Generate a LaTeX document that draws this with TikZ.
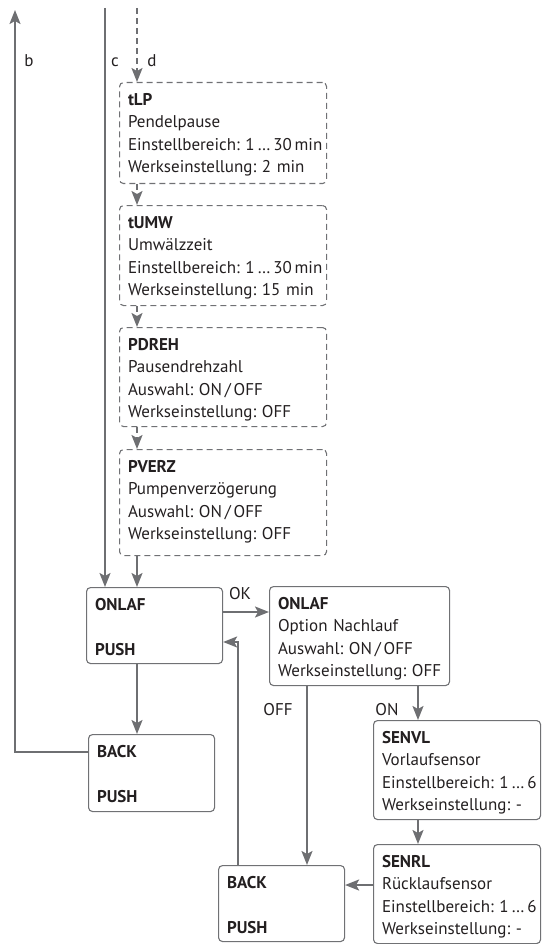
\documentclass[tikz,border=0pt]{standalone}
\usepackage{fontspec}
\setmainfont{PT Sans}
\usetikzlibrary{arrows.meta,calc}
\definecolor{lgray}{HTML}{6E6F72}
\definecolor{bgray}{HTML}{707174}
\definecolor{txt}{HTML}{231F20}
\frenchspacing
\tikzset{
  conn/.style={draw=lgray, line width=2pt},
  arr/.style={conn, -{Stealth[length=14pt,width=11pt,inset=3pt]}},
  darr/.style={arr, dash pattern=on 6pt off 4pt},
  box/.style={draw=bgray, line width=1.1pt, rounded corners=4pt, anchor=north west,
    inner xsep=8.5pt, inner ysep=0pt, align=left, text=txt,
    font=\fontsize{17}{22.3}\selectfont\frenchspacing, text height=23pt},
  dbox/.style={box, dash pattern=on 6pt off 4pt},
  lbl/.style={anchor=base, text=txt, font=\fontsize{17}{20}\selectfont, inner sep=0pt},
}
\begin{document}
\begin{tikzpicture}[x=1pt,y=-1pt]
\useasboundingbox (0,0) rectangle (541,944);
% dashed parameter boxes
\node[dbox, text width=190pt, text depth=78pt] (tlp) at (119,82)
  {\textbf{tLP}\\Pendelpause\\\mbox{Einstellbereich: 1\,…\,30\,min}\\\mbox{Werkseinstellung: 2 min}};
\node[dbox, text width=190pt, text depth=77pt] (tumw) at (119,205)
  {\textbf{tUMW}\\Umwälzzeit\\\mbox{Einstellbereich: 1\,…\,30\,min}\\\mbox{Werkseinstellung: 15 min}};
\node[dbox, text width=190pt, text depth=76pt] (pdreh) at (119,327)
  {\textbf{PDREH}\\Pausendrehzahl\\\mbox{Auswahl: ON\,/\,OFF}\\\mbox{Werkseinstellung: OFF}};
\node[dbox, text width=190pt, text depth=83pt] (pverz) at (119,449)
  {\textbf{PVERZ}\\Pumpenverzögerung\\\mbox{Auswahl: ON\,/\,OFF}\\\mbox{Werkseinstellung: OFF}};
% solid boxes
\node[box, text width=119pt, text height=23pt, text depth=53pt] (onlaf1) at (86,587)
  {\textbf{ONLAF}\\[22.7pt]\textbf{PUSH}};
\node[box, text width=163pt, text depth=76pt] (onlaf2) at (269,586)
  {\textbf{ONLAF}\\Option Nachlauf\\\mbox{Auswahl: ON\,/\,OFF}\\\mbox{Werkseinstellung: OFF}};
\node[box, text width=109pt, text height=23pt, text depth=54pt] (back1) at (88,734)
  {\textbf{BACK}\\[22.7pt]\textbf{PUSH}};
\node[box, text width=150pt, text depth=76pt] (senvl) at (373,720)
  {\textbf{SENVL}\\Vorlaufsensor\\\mbox{Einstellbereich: 1\,…\,6}\\\mbox{Werkseinstellung: -}};
\node[box, text width=150pt, text depth=76pt] (senrl) at (373,844)
  {\textbf{SENRL}\\Rücklaufsensor\\\mbox{Einstellbereich: 1\,…\,6}\\\mbox{Werkseinstellung: -}};
\node[box, text width=109pt, text height=23pt, text depth=53pt] (back2) at (218,865)
  {\textbf{BACK}\\[22.7pt]\textbf{PUSH}};
% helper coordinates
\coordinate (btip) at (15,10);
\coordinate (ctop) at (105,8);
\coordinate (dtop) at (137,8);
% connectors
\draw[arr] ([yshift=-18pt]back1.north west) -| (btip);
\draw[arr] (ctop) -- (ctop |- onlaf1.north);
\draw[darr] (dtop) -- (dtop |- tlp.north);
\draw[darr] (dtop |- tlp.south) -- (dtop |- tumw.north);
\draw[darr] (dtop |- tumw.south) -- (dtop |- pdreh.north);
\draw[darr] (dtop |- pdreh.south) -- (dtop |- pverz.north);
\draw[arr] (dtop |- pverz.south) -- (dtop |- onlaf1.north);
\draw[arr] (dtop |- onlaf1.south) -- (dtop |- back1.north);
\path (onlaf1.north east) ++(0,25) coordinate (okl);
\draw[arr] (okl) -- (okl -| onlaf2.west);
\path (onlaf1.north east) ++(0,55) coordinate (retl);
\path (back2.north west) ++(20,0) coordinate (retb);
\draw[arr] (retb) |- (retl);
\path (onlaf2.south west) ++(38,0) coordinate (offt);
\draw[arr] (offt) -- (offt |- back2.north);
\path (onlaf2.south west) ++(149,0) coordinate (ont);
\draw[arr] (ont) -- (ont |- senvl.north);
\draw[arr] (ont |- senvl.south) -- (ont |- senrl.north);
\path (senrl.north west) ++(0,41) coordinate (srl);
\draw[arr] (srl) -- (srl -| back2.east);
% labels
\node[lbl] (lb) at (29,67) {b};
\node[lbl] (lc) at (115,67) {c};
\node[lbl] (ld) at (152,67) {d};
\node[lbl] (lok) at (240,599) {OK};
\node[lbl] (loff) at (278,715) {OFF};
\node[lbl] (lon) at (387,715) {ON};
\end{tikzpicture}
\end{document}
